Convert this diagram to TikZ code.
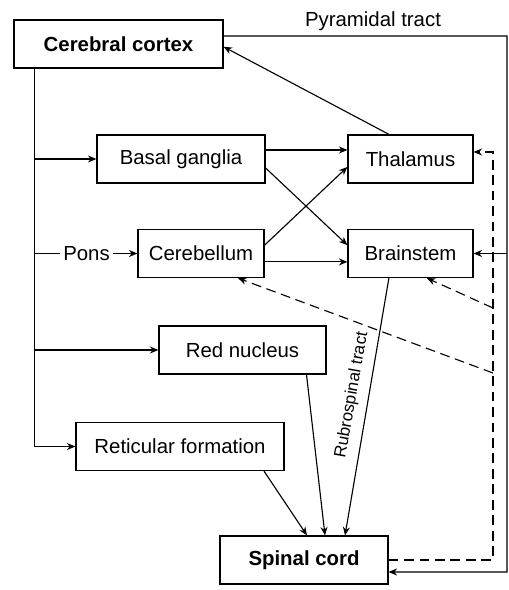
\documentclass[tikz,border=0pt]{standalone}
\usepackage{fontspec}
\setmainfont{Liberation Sans}
\usetikzlibrary{arrows.meta}

\begin{document}
\begin{tikzpicture}[>={Stealth[length=6pt,width=5pt]},
        box/.style={draw, line width=0.9pt, minimum height=1.2cm, inner sep=0pt, font=\fontsize{14.5}{17}\selectfont},
        link/.style={->, line width=0.8pt},
        feedback/.style={->, line width=0.8pt, dash pattern=on 7pt off 4pt}]
    \useasboundingbox (0,0) rectangle (12.7,14.75);

    % Boxes
    \node[box, minimum width=5.225cm] (cortex) at (2.9625, 13.65) {\bfseries Cerebral cortex};
    \node[box, minimum width=4.2cm] (basal) at (4.525, 10.775) {Basal ganglia};
    \node[box, minimum width=3.125cm] (thalamus) at (10.2625, 10.775) {Thalamus};
    \node[box, minimum width=3.15cm] (cerebellum) at (5.025, 8.4125) {Cerebellum};
    \node[box, minimum width=3.125cm] (brainstem) at (10.2625, 8.4125) {Brainstem};
    \node[box, minimum width=4.175cm] (red) at (6.0625, 6.0) {Red nucleus};
    \node[box, minimum width=5.2cm] (reticular) at (4.5, 3.5875) {Reticular formation};
    \node[box, minimum width=4.2cm] (spinal) at (7.6, 0.75) {\bfseries Spinal cord};

    % Labels
    \node[font=\fontsize{14.5}{17}\selectfont, inner sep=2pt] (pons) at (2.1625, 8.4125) {Pons};
    \node[above, font=\fontsize{14.5}{17}\selectfont] (pyrlabel) at (9.325, 13.85) {Pyramidal tract};
    \node[rotate=80, inner sep=1pt, font=\fontsize{12}{14}\selectfont] (rubro) at (8.8, 4.875) {Rubrospinal tract};

    % Cortex outputs
    \coordinate (trunk) at ([xshift=0.525cm]cortex.south west);
    \draw[link] (trunk) |- (reticular.west);
    \draw[link] (trunk |- basal.west) -- (basal.west);
    \draw[line width=0.8pt] (trunk |- pons.west) -- (pons.west);
    \draw[link] (pons.east) -- (cerebellum.west);
    \draw[link] (trunk |- red.west) -- (red.west);

    \coordinate (pyr) at (12.675, 13.85);
    \draw[link] ([yshift=0.2cm]cortex.east) -- (pyr) |- ([yshift=-0.3cm]spinal.east);
    \draw[link] (pyr |- brainstem.east) -- (brainstem.east);

    % Middle connections
    \draw[link] ([xshift=-0.54cm]thalamus.north) -- ([yshift=-0.07cm]cortex.east);
    \draw[link] ([yshift=0.225cm]basal.east) -- ([yshift=0.225cm]thalamus.west);
    \draw[link] ([yshift=-0.225cm]basal.east) -- ([yshift=0.21cm]brainstem.west);
    \draw[link] ([yshift=0.21cm]cerebellum.east) -- ([yshift=-0.2cm]thalamus.west);
    \draw[link] ([yshift=-0.21cm]cerebellum.east) -- ([yshift=-0.21cm]brainstem.west);

    % Into spinal cord
    \draw[link] ([xshift=2.1cm]reticular.south) -- ([xshift=0.075cm]spinal.north);
    \draw[link] ([xshift=1.6cm]red.south) -- ([xshift=0.525cm]spinal.north);
    \draw[link] ([xshift=-0.54cm]brainstem.south) -- ([xshift=1.025cm]spinal.north);

    % Feedback (dashed)
    \coordinate (fb) at (12.325, 0.75);
    \coordinate (fb1) at (12.325, 7.05);
    \coordinate (fb2) at (12.325, 5.425);
    \draw[feedback] (spinal.east) -- (fb) |- ([yshift=0.175cm]thalamus.east);
    \draw[feedback] (fb1) -- ([xshift=0.41cm]brainstem.south);
    \draw[feedback] (fb2) -- ([xshift=0.925cm]cerebellum.south);
\end{tikzpicture}
\end{document}
